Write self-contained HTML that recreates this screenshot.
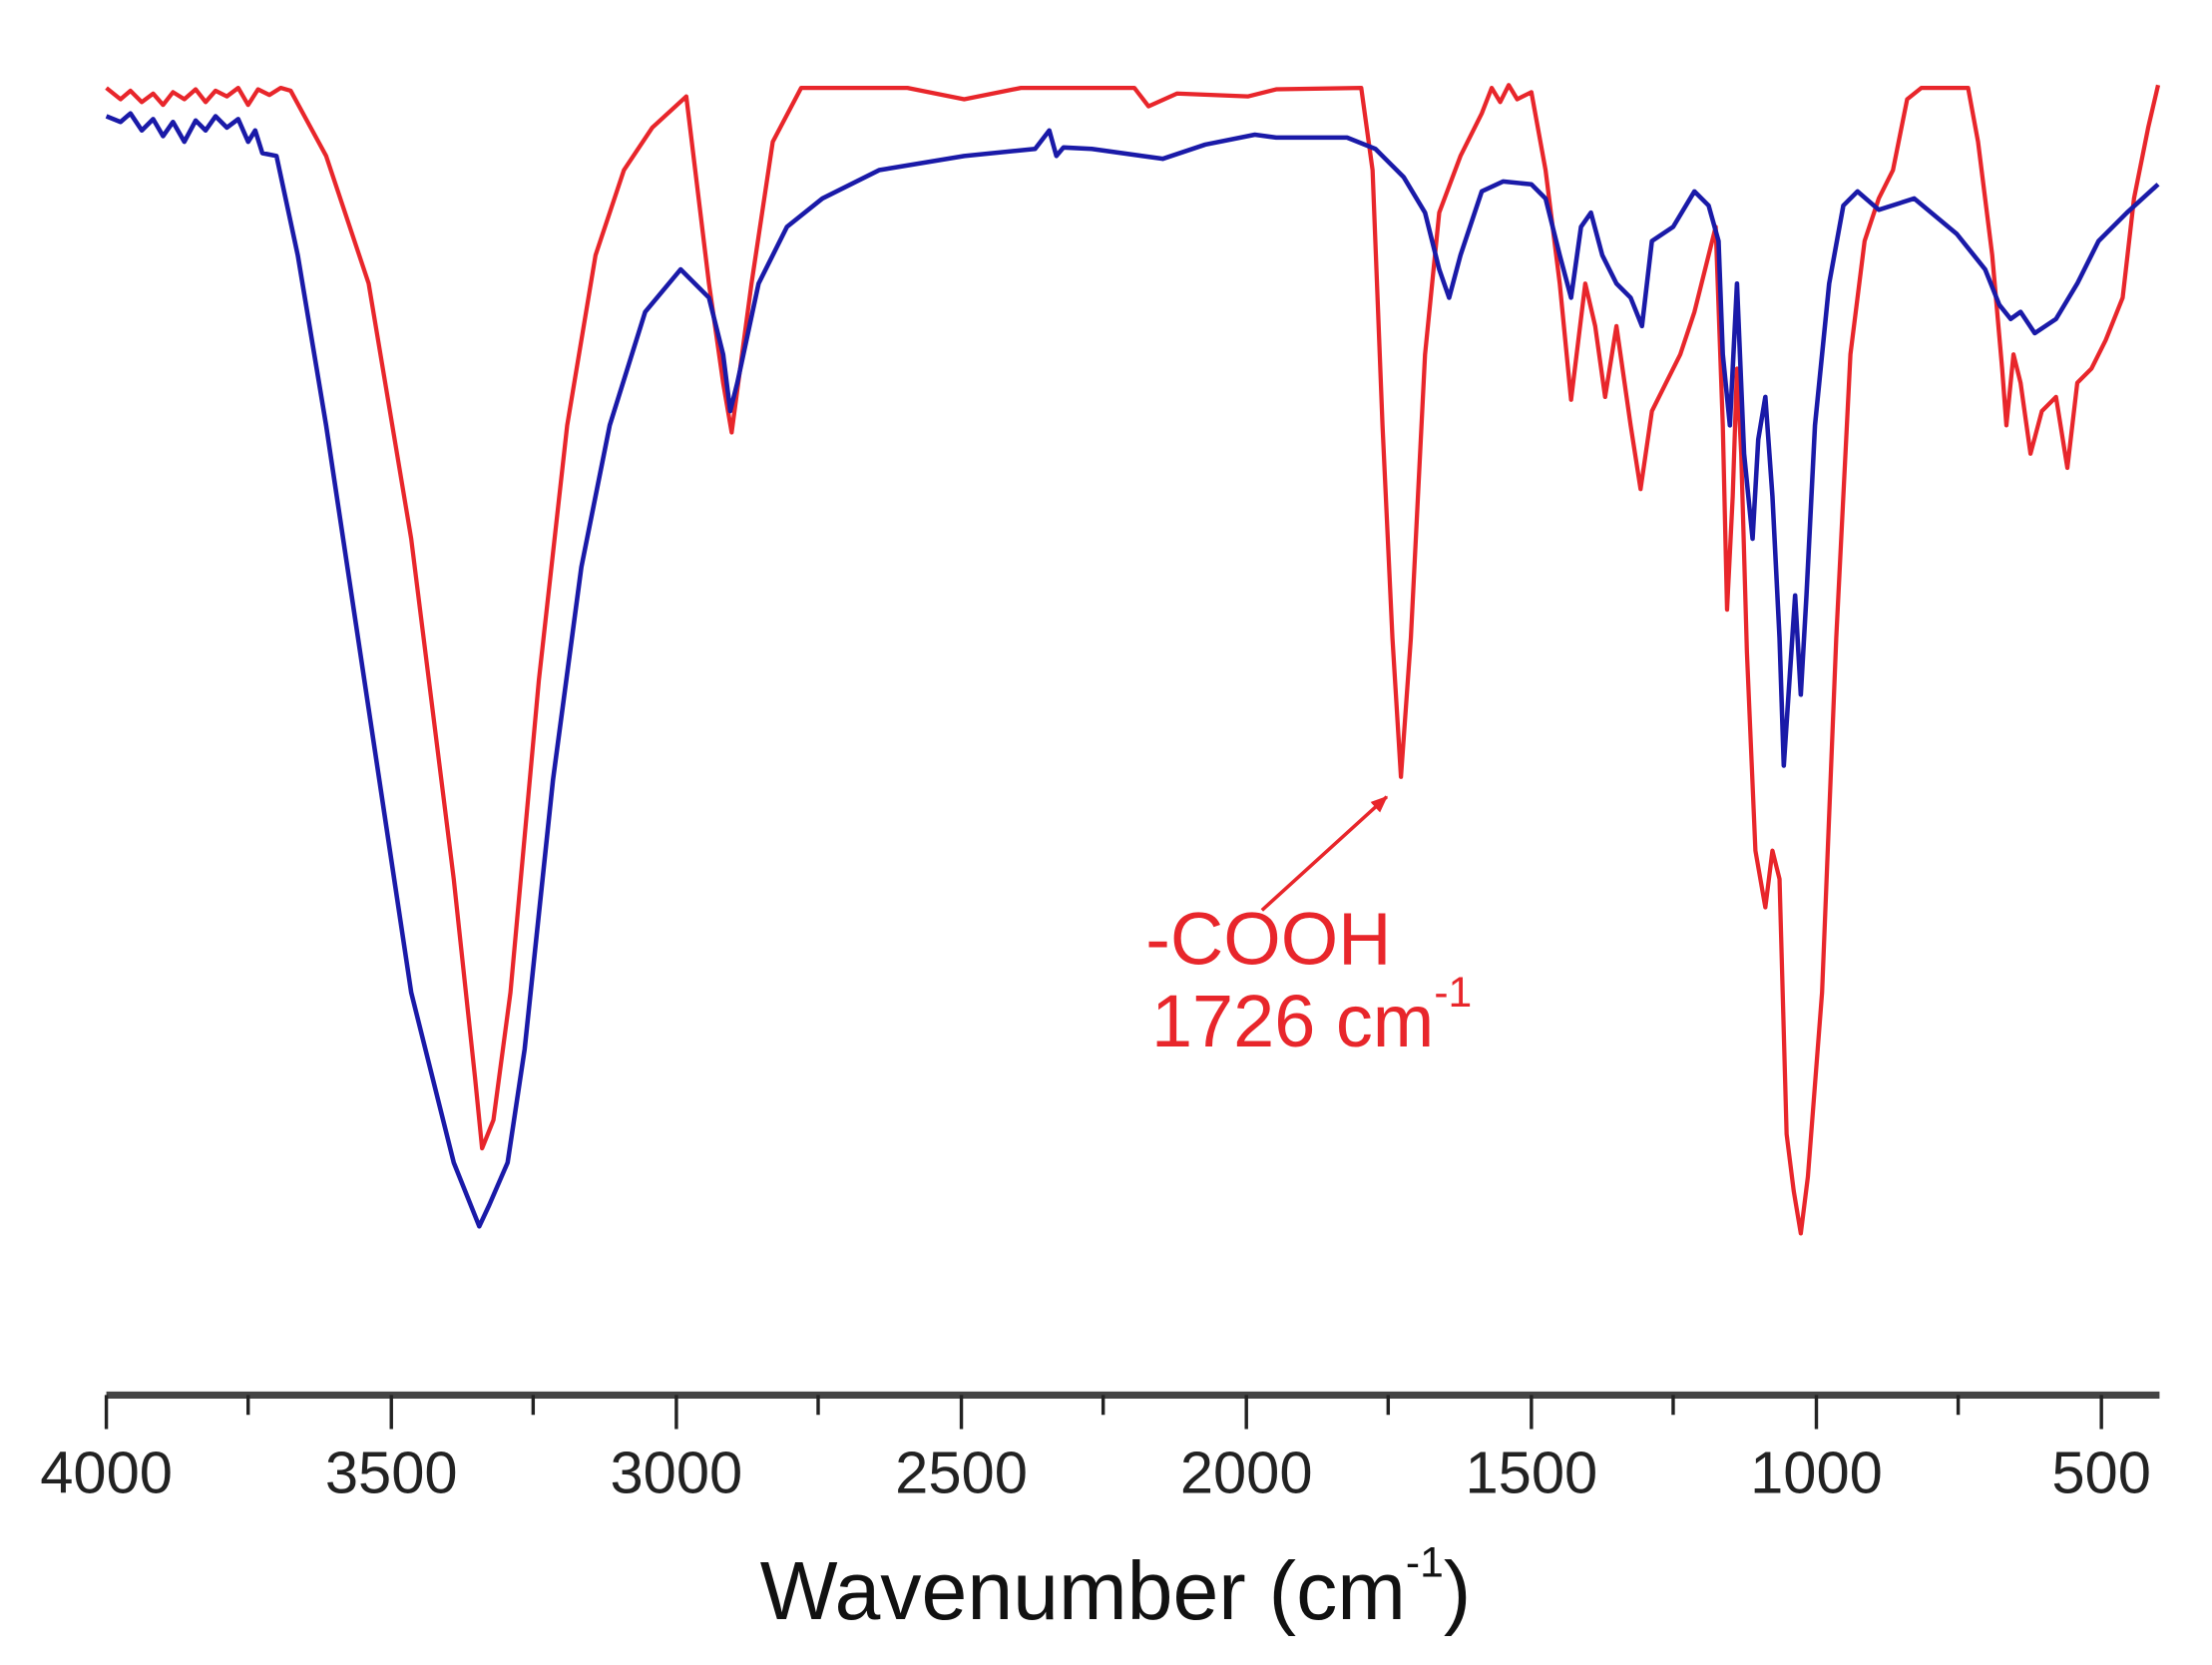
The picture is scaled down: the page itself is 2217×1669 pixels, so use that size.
<!DOCTYPE html>
<html><head><style>html,body{margin:0;padding:0;background:#fff}svg{display:block}</style></head>
<body>
<svg width="2217" height="1669" viewBox="0 0 1560 1174.4" preserveAspectRatio="none" xmlns="http://www.w3.org/2000/svg" font-family="Liberation Sans, Arial, sans-serif">
<defs><marker id="ah" markerWidth="12" markerHeight="10" refX="11" refY="5" orient="auto" markerUnits="userSpaceOnUse"><path d="M0,0 L12,5 L0,10z" fill="#e8262b"/></marker></defs>
<g fill="none" stroke-width="3" stroke-linejoin="round">
<path stroke="#e8262b" d="M75,62 L85,70 L92,64 L100,72 L108,66 L115,74 L122,65 L130,70 L138,63 L145,72 L152,64 L160,68 L168,62 L175,74 L182,63 L190,67 L198,62 L205,64 L230,110 L260,200 L290,380 L320,620 L335,760 L340,810 L348,790 L360,700 L380,480 L400,300 L420,180 L440,120 L460,90 L484,68 L500,200 L510,270 L516,305 L530,200 L545,100 L565,62 L640,62 L680,70 L720,62 L800,62 L810,75 L830,66 L880,68 L900,63 L960,62 L968,120 L975,300 L982,450 L988,548 L995,450 L1005,250 L1015,150 L1030,110 L1045,80 L1052,62 L1058,72 L1064,60 L1070,70 L1080,65 L1090,120 L1100,200 L1108,282 L1118,200 L1125,230 L1132,280 L1140,230 L1150,300 L1157,345 L1165,290 L1175,270 L1185,250 L1195,220 L1205,180 L1210,160 L1215,300 L1218,430 L1222,350 L1225,260 L1228,320 L1232,460 L1238,600 L1245,640 L1250,600 L1255,620 L1260,800 L1265,840 L1270,870 L1275,830 L1285,700 L1295,450 L1305,250 L1315,170 L1325,140 L1335,120 L1345,70 L1355,62 L1388,62 L1395,100 L1405,180 L1412,260 L1415,300 L1420,250 L1425,270 L1432,320 L1440,290 L1450,280 L1458,330 L1465,270 L1475,260 L1485,240 L1497,210 L1505,140 L1515,90 L1522,60"/>
<path stroke="#1a1aa8" stroke-width="3.2" d="M75,82 L85,86 L92,80 L100,92 L108,84 L115,96 L122,86 L130,100 L138,85 L145,92 L152,82 L160,90 L168,84 L175,100 L180,92 L185,108 L195,110 L210,180 L230,300 L260,500 L290,700 L320,820 L338,865 L345,850 L358,820 L370,740 L390,550 L410,400 L430,300 L455,220 L480,190 L500,210 L510,250 L515,290 L520,270 L535,200 L555,160 L580,140 L620,120 L680,110 L730,105 L740,92 L745,110 L750,104 L770,105 L820,112 L850,102 L885,95 L900,97 L950,97 L970,105 L990,125 L1005,150 L1015,190 L1022,210 L1030,180 L1045,135 L1060,128 L1080,130 L1090,140 L1100,180 L1108,210 L1115,160 L1122,150 L1130,180 L1140,200 L1150,210 L1158,230 L1165,170 L1180,160 L1195,135 L1205,145 L1212,170 L1215,250 L1220,300 L1225,200 L1230,320 L1236,380 L1240,310 L1245,280 L1250,350 L1255,450 L1258,540 L1262,480 L1266,420 L1270,490 L1274,420 L1280,300 L1290,200 L1300,145 L1310,135 L1325,148 L1350,140 L1380,165 L1400,190 L1410,215 L1418,225 L1425,220 L1435,235 L1450,225 L1465,200 L1480,170 L1500,150 L1522,130"/>
</g>
<line x1="890" y1="642" x2="978" y2="562" stroke="#e8262b" stroke-width="2.5" marker-end="url(#ah)"/>
<text x="808" y="680" font-size="52" fill="#e8262b">-COOH</text>
<text x="812" y="738" font-size="52" fill="#e8262b">1726 cm<tspan font-size="30" dy="-28">-1</tspan></text>
<line x1="75" y1="984" x2="1523" y2="984" stroke="#444" stroke-width="5"/>
<g stroke="#222" stroke-width="2.4">
<path d="M75,984V1008M276,984V1008M477,984V1008M678,984V1008M879,984V1008M1080,984V1008M1281,984V1008M1482,984V1008"/>
<path d="M175,984V998M376,984V998M577,984V998M778,984V998M979,984V998M1180,984V998M1381,984V998"/>
</g>
<g font-size="42" fill="#222" text-anchor="middle">
<text x="75" y="1053">4000</text><text x="276" y="1053">3500</text><text x="477" y="1053">3000</text><text x="678" y="1053">2500</text><text x="879" y="1053">2000</text><text x="1080" y="1053">1500</text><text x="1281" y="1053">1000</text><text x="1482" y="1053">500</text>
</g>
<text x="536" y="1142" font-size="58" fill="#111">Wavenumber (cm<tspan font-size="30" dy="-30">-1</tspan><tspan dy="30">)</tspan></text>
</svg>
</body></html>
